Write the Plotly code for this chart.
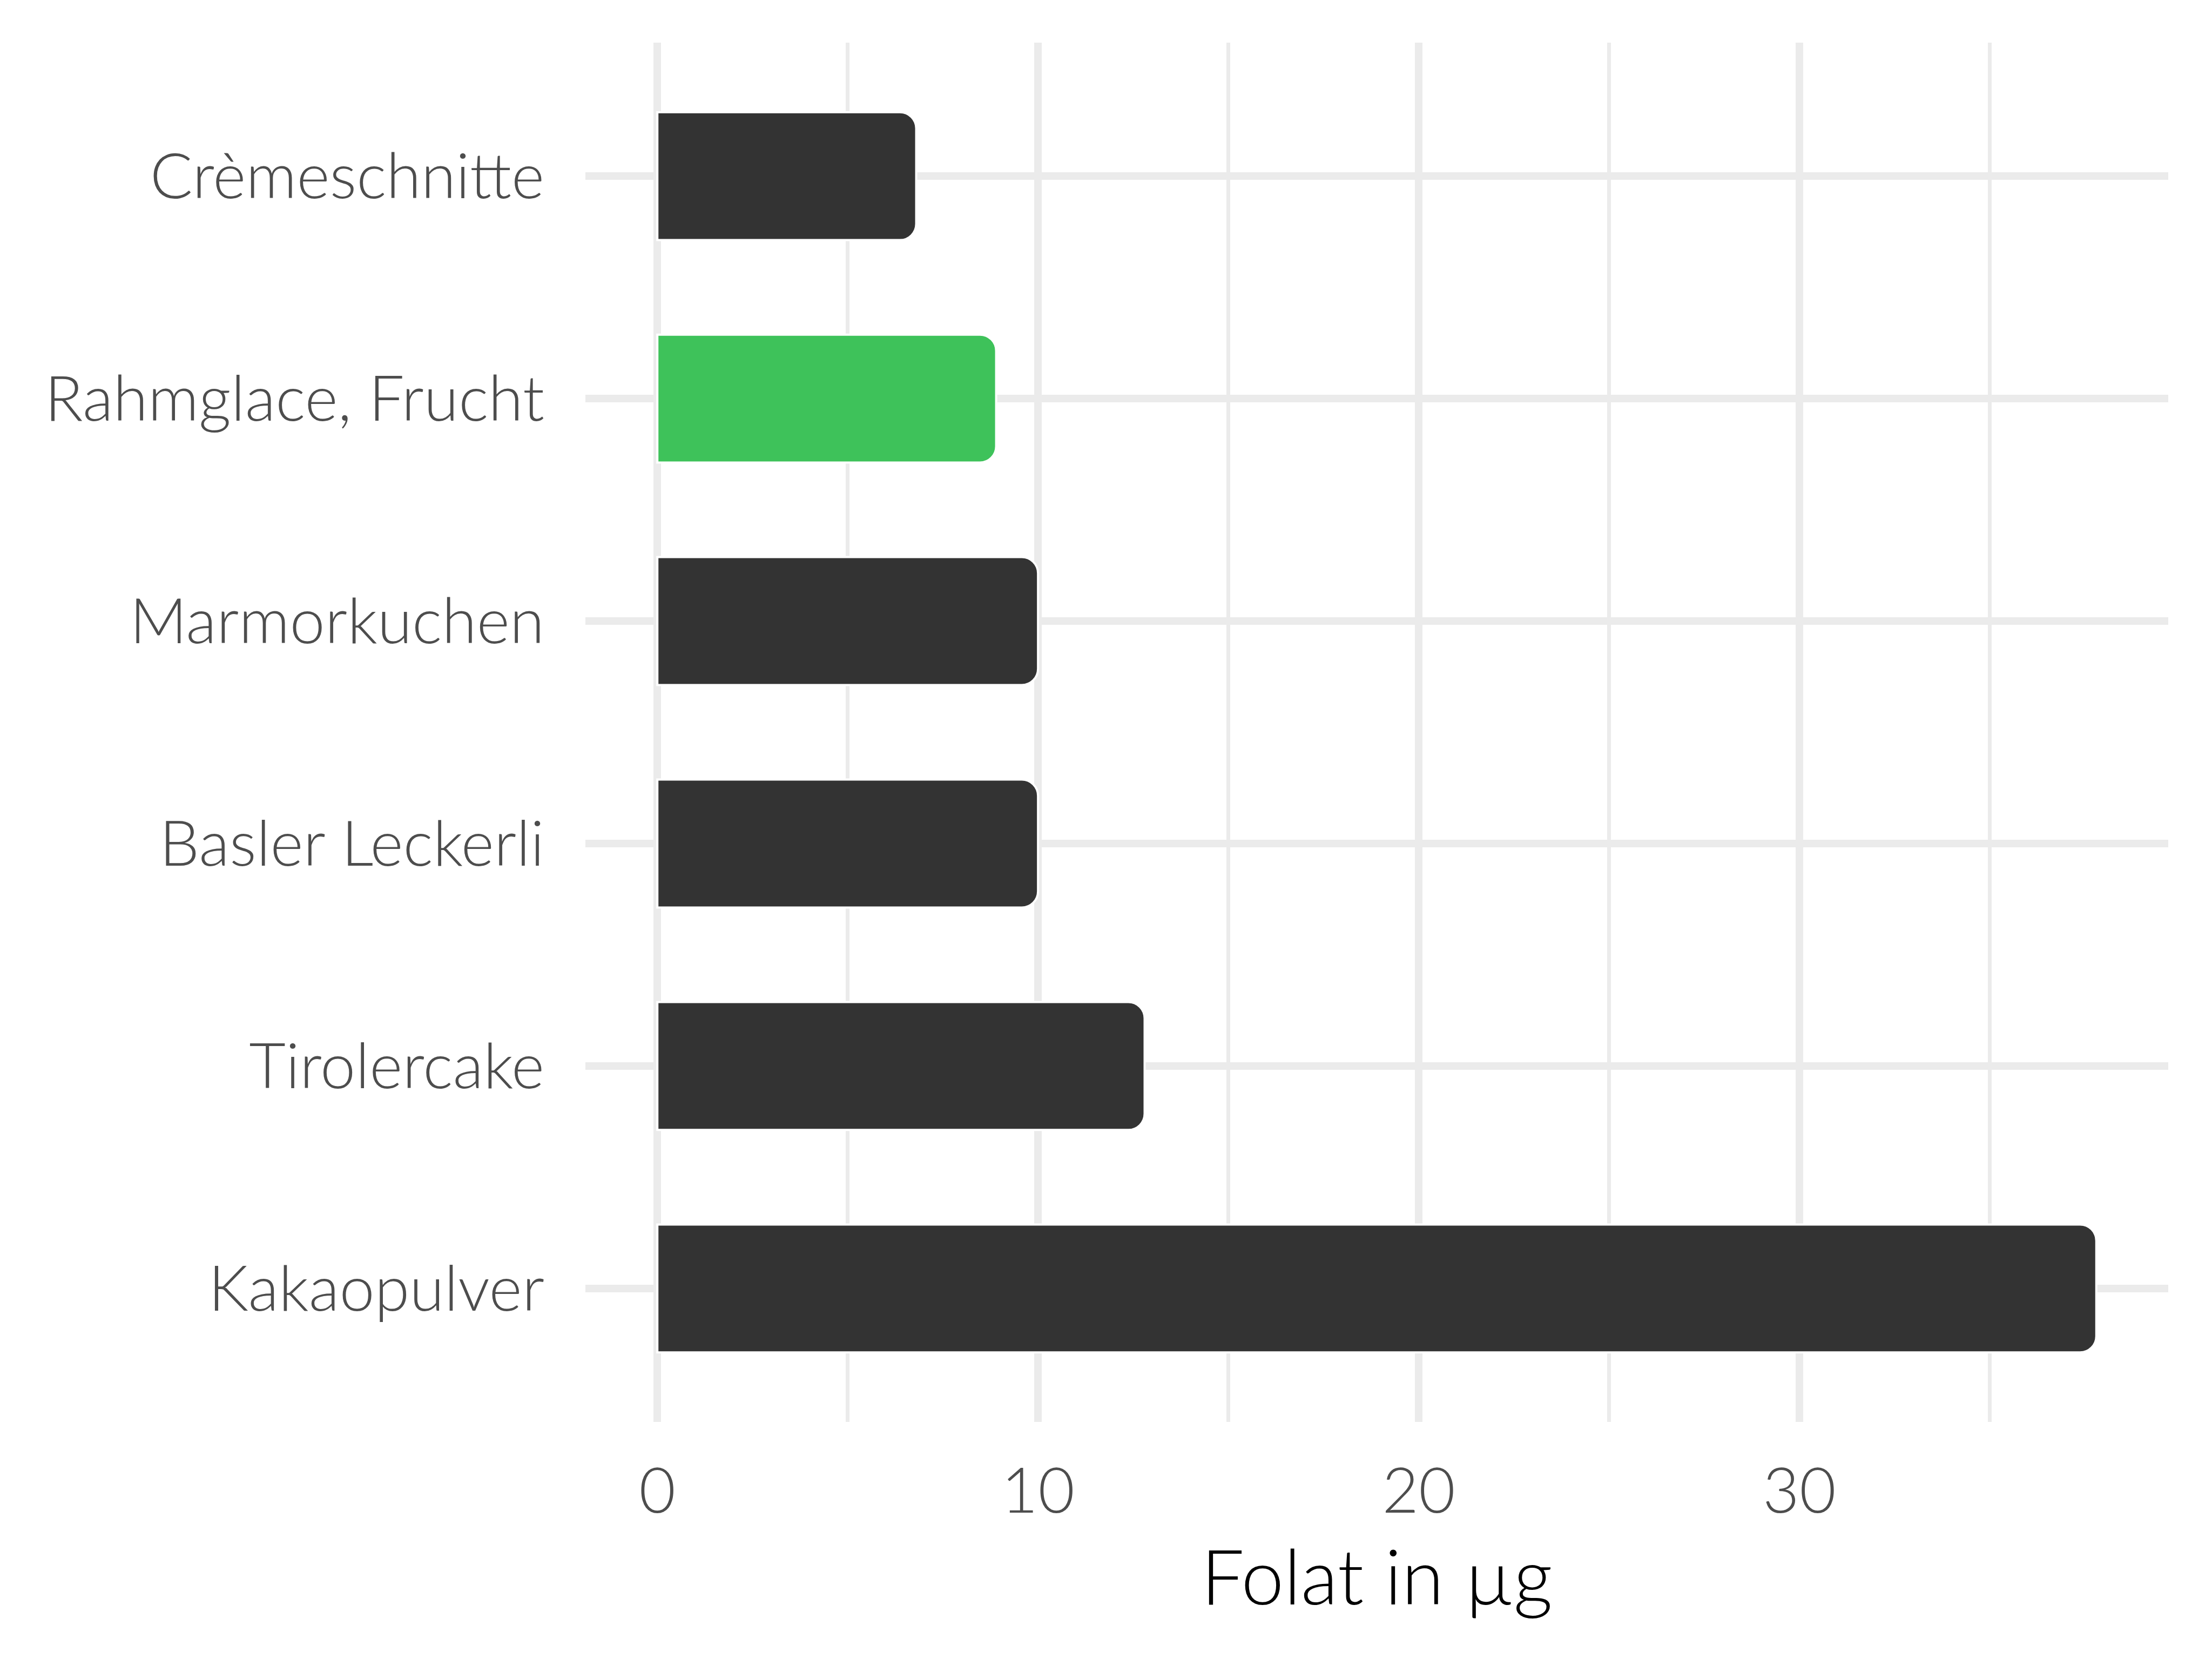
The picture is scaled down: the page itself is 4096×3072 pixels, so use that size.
import plotly.graph_objects as go

categories = ["Crèmeschnitte", "Rahmglace, Frucht", "Marmorkuchen",
              "Basler Leckerli", "Tirolercake", "Kakaopulver"]
values = [6.8, 8.9, 10.0, 10.0, 12.8, 37.8]
highlight = "Rahmglace, Frucht"
x_ticks = [0, 10, 20, 30]
x_title = "Folat in µg"

DARK = "#333333"
GREEN = "#3EC25A"
colors = [GREEN if c == highlight else DARK for c in categories]

# page body has an 8px margin; size the figure so it fits the window
W, H = 4080, 3056
FONT = "Lato"

fig = go.Figure()
fig.add_trace(go.Bar(
    x=values, y=categories, orientation="h",
    width=0.575,
    marker=dict(color=colors, line=dict(color="white", width=4), cornerradius=30),
    showlegend=False,
))

vmax = max(values)
pad = 0.05 * vmax

fig.update_layout(
    width=W, height=H,
    margin=dict(l=1076, r=73, t=71, b=431, autoexpand=False),
    paper_bgcolor="white", plot_bgcolor="white",
    font=dict(family=FONT, color="#4D4D4D", size=117, weight=300),
    bargap=0.4,
    xaxis=dict(
        range=[-pad, vmax + pad],
        tickvals=x_ticks, ticktext=[str(v) for v in x_ticks],
        showgrid=True, gridcolor="#EBEBEB", gridwidth=13.6,
        zeroline=False, showline=False, ticks="",
        tickfont=dict(family=FONT, size=117, color="#4D4D4D", weight=300),
        ticklabelstandoff=50,
        minor=dict(tickvals=[5, 15, 25, 35], showgrid=True,
                   gridcolor="#EBEBEB", gridwidth=6.8, ticks=""),
        title=dict(text=x_title, standoff=46,
                   font=dict(family=FONT, size=142, color="black", weight=300)),
    ),
    yaxis=dict(
        categoryorder="array", categoryarray=categories[::-1],
        range=[-0.6, len(categories) - 0.4],
        showgrid=True, gridcolor="#EBEBEB", gridwidth=13.6,
        zeroline=False, showline=False, ticks="",
        tickfont=dict(family=FONT, size=117, color="#4D4D4D", weight=300),
        ticklabelstandoff=75,
    ),
)

fig.write_html("out.html")
